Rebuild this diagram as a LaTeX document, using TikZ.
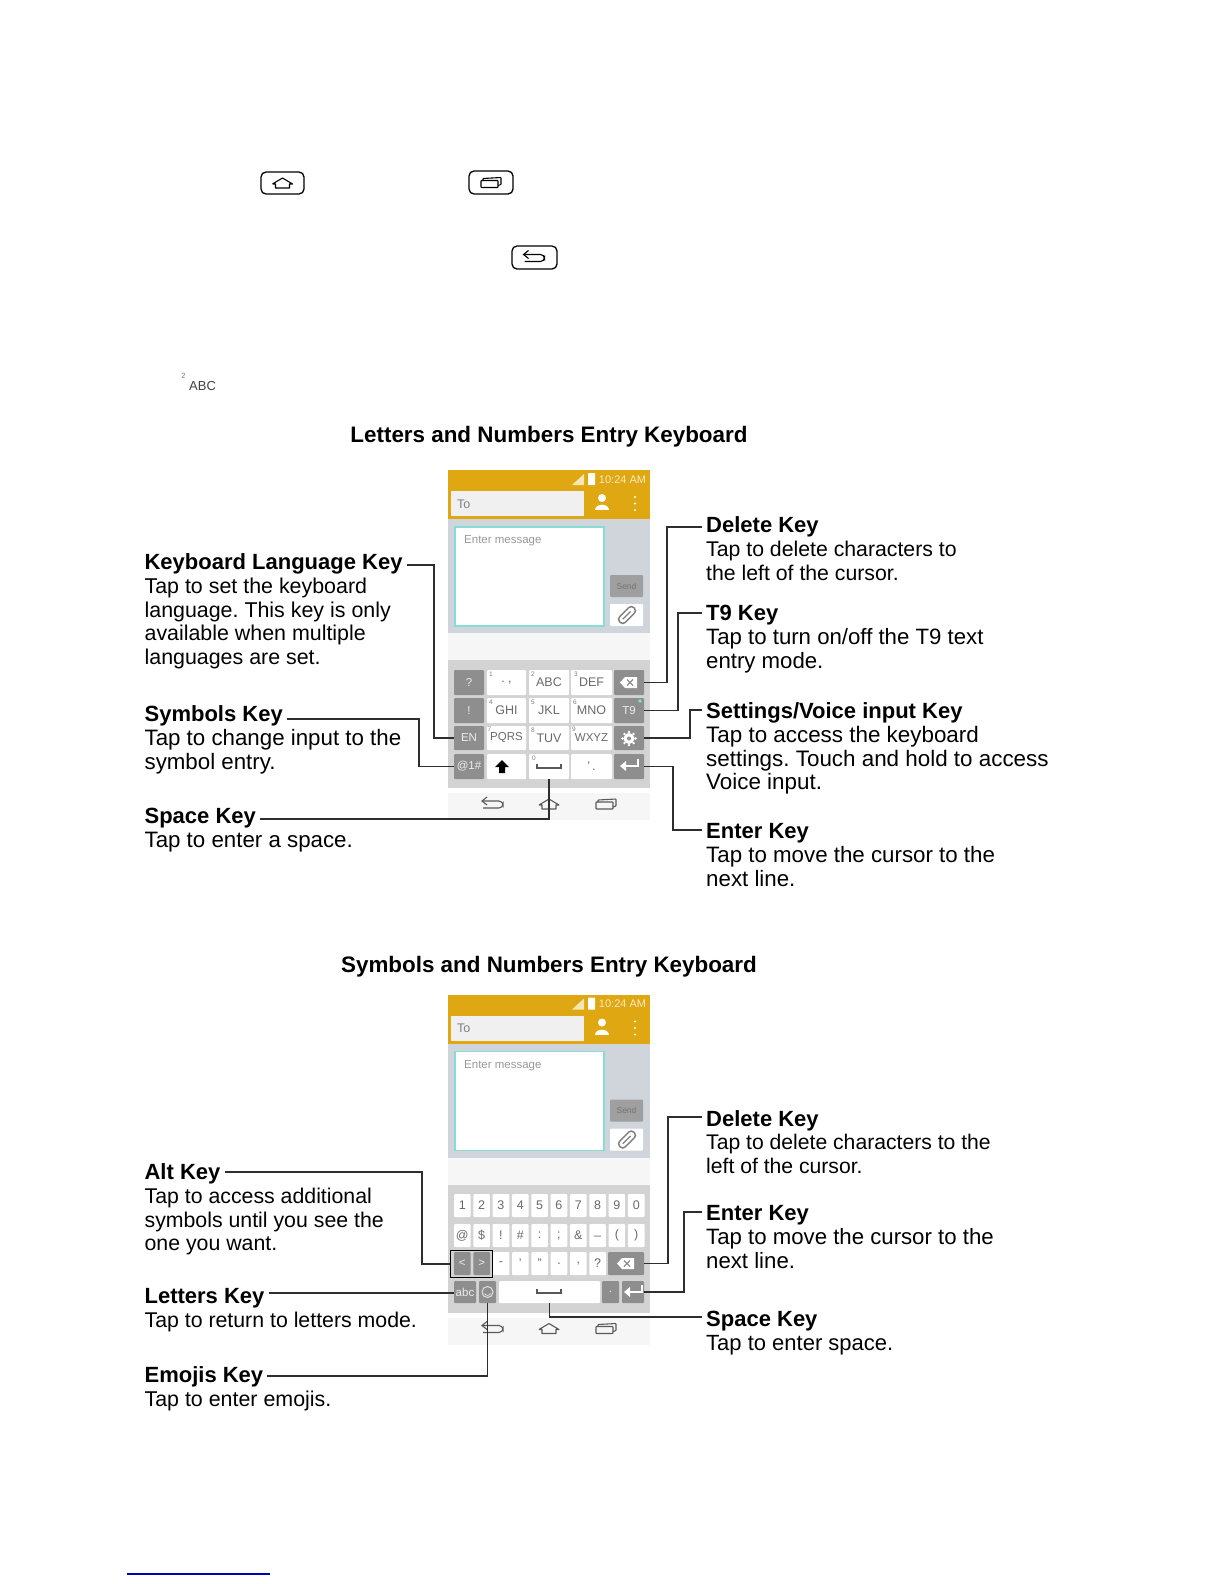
\documentclass[tikz,border=0pt]{standalone}
\usepackage{fontspec}
\setmainfont{Liberation Sans}
\frenchspacing
\usetikzlibrary{calc}
\definecolor{barO}{HTML}{DFA812}
\definecolor{msgG}{HTML}{CFD5DA}
\definecolor{kbG}{HTML}{D3D3D3}
\definecolor{keyD}{HTML}{8E8E8E}
\definecolor{bandL}{HTML}{F6F6F6}
\definecolor{tealB}{HTML}{86DDD6}
\definecolor{txtG}{HTML}{6A6A6A}
\definecolor{lineK}{HTML}{2E2E2E}
\tikzset{
 x=1pt,y=-1pt,
 conn/.style={draw=lineK,line width=1.6pt,shorten <=4pt},
 keyw/.style={fill=white,rounded corners=1pt,inner sep=0,text=txtG,font=\fontsize{12.5}{13}\selectfont},
 keyd/.style={fill=keyD,rounded corners=1pt,inner sep=0,text=white!85!gray,font=\fontsize{11.5}{13}\selectfont},
 sm/.style={inner sep=0,text=gray,font=\fontsize{6.5}{7}\selectfont},
 heading/.style={anchor=base west,inner sep=0,text height=16pt,text depth=5pt,font=\bfseries\fontsize{22}{24}\selectfont},
 bodytxt/.style={anchor=north west,inner sep=0,align=left},
 titletxt/.style={inner sep=0,font=\bfseries\fontsize{22.4}{25}\selectfont},
 ic/.style={draw=#1,line width=1.1pt,fill=none},
 ic/.default=black,
 homeic/.pic={\draw[ic=#1,line join=round] (-10,1)--(0,-5)--(10,1)--(7,1)--(7,5)--(-7,5)--(-7,1)--(-10,1);},
 homeic/.default=black,
 recic/.pic={\draw[ic=#1,rounded corners=.6pt] (-10,-2) rectangle (7,5);\draw[ic=#1,rounded corners=.6pt] (-8,-2)--(-8,-4)--(10,-5)--(10,2)--(7,3);},
 recic/.default=black,
 backic/.pic={\draw[ic=#1,rounded corners=4pt] (-10,-3)--(10,-3)--(10,4)--(-10,4);\draw[ic=#1] (-6,-7)--(-11,-3)--(-6,1);},
 backic/.default=black,
 btnbox/.style={draw=black,line width=1.3pt,rounded corners=5pt,fill=white,inner sep=0},
}
\newcommand\kk[7]{\node[#1,minimum width={((#5)-(#3))*1pt},minimum height={((#6)-(#4))*1pt}] (#2) at ({((#3)+(#5))/2},{((#4)+(#6))/2}) {\raisebox{-1pt}{#7}};}
\newcommand\sn[3]{\node[sm] (s#1#2) at (#1,#2) {#3};}
% label block: [body size]{x}{baseline y}{name}{connector y}{heading}{body}
\newcommand\blk[7][21.6]{\node[heading] (#4) at (#2,#3) {#6};
 \node[bodytxt,font=\fontsize{#1}{23.7}\selectfont] (#4b) at (#2,#3+7.1) {\strut #7};
 \coordinate (#4y) at (0,#5);}
\newcommand\phonetop{%
 \fill[barO] (448,470) rectangle (650,519);
 \fill[msgG] (448,519) rectangle (650,633);
 \fill[bandL] (448,633) rectangle (650,660);
 \fill[kbG] (448,660) rectangle (650,788);
 \fill[bandL] (448,793) rectangle (650,820);
 \fill[white!70!barO] (572,485)--(584,474)--(584,485)--cycle;
 \fill[white,rounded corners=.5pt] (588,473) rectangle (595,485);
 \node[inner sep=0,text=white!75!barO,font=\fontsize{11}{13}\selectfont] (clock) at (622.5,479.5) {10:24 AM};
 \kk{fill=white!88!gray,inner sep=0}{tobox}{451}{491}{584}{516}{}
 \node[anchor=west,inner sep=0,text=gray,font=\fontsize{12.5}{13}\selectfont] (totxt) at (457,504) {To};
 \fill[white] (602,498) circle (4);
 \fill[white] (595,510) .. controls (595,503) and (609,503) .. (609,510) -- cycle;
 \fill[white] (635,497) circle (1.2) (635,503.5) circle (1.2) (635,510) circle (1.2);
 \kk{fill=white,draw=tealB,line width=1.5pt,inner sep=0}{msgbox}{455}{527}{604}{626}{}
 \node[anchor=west,inner sep=0,text=gray!80,font=\fontsize{11.5}{13}\selectfont] (msgtxt) at (464,541) {Enter message};
 \kk{fill=keyD!85!white,rounded corners=1pt,inner sep=0,text=gray!90!black,font=\fontsize{8.5}{10}\selectfont}{sendk}{610}{575}{643}{597}{Send}
 \kk{fill=white,rounded corners=1pt,inner sep=0}{clipk}{610}{604}{643}{626}{}
 \begin{scope}[rotate around={45:(627,615)}]
 \draw[draw=gray,line width=1.5pt,rounded corners=3.5pt] (617,611) rectangle (637,619);
 \draw[draw=gray,line width=1.2pt] (621,615) -- (632,615);
 \end{scope}
 \pic at (493,804) {backic=gray!70!black};
 \pic at (549,804) {homeic=gray!70!black};
 \pic at (606,804) {recic=gray!70!black};
}
\newcommand\delicon[2]{\fill[white] (#1-9,#2)--(#1-4,#2-5.5)--(#1+8,#2-5.5)--(#1+8,#2+5.5)--(#1-4,#2+5.5)--cycle;
 \draw[keyD,line width=1.2pt] (#1-2,#2-3)--(#1+4,#2+3) (#1-2,#2+3)--(#1+4,#2-3);}
\newcommand\enticon[2]{\draw[white,line width=1.8pt] (#1+9,#2-7)--(#1+9,#2)--(#1-5,#2);\fill[white] (#1-9,#2)--(#1-3,#2-5)--(#1-3,#2+5)--cycle;}
\newcommand\spcicon[2]{\draw[lineK!80,line width=1.4pt] (#1-12,#2-3)--(#1-12,#2+1)--(#1+12,#2+1)--(#1+12,#2-3);}
\begin{document}
\begin{tikzpicture}
\useasboundingbox (0,0) rectangle (1224,1584);
\fill[white] (0,0) rectangle (1224,1584);
% top icons
\kk{btnbox}{bhome}{261}{172}{304}{194}{}
\pic at (bhome.center) {homeic};
\kk{btnbox}{brec}{469}{171}{513}{194}{}
\pic at (brec.center) {recic};
\kk{btnbox}{bback}{512}{246}{557}{269}{}
\pic at (bback.center) {backic};
\node[sm,font=\fontsize{7.5}{8}\selectfont] (sup2) at (183.5,375.5) {2};
\node[anchor=base west,inner sep=0,text=black!75,font=\fontsize{13}{14}\selectfont] (abc) at (189,390) {ABC};
% titles
\node[titletxt] (t1) at (549,437) {Letters and Numbers Entry Keyboard};
\node[titletxt] (t2) at (549,966.5) {Symbols and Numbers Entry Keyboard};
% first phone
\phonetop
\kk{keyd}{kQ}{454}{670}{484}{695}{?}
\kk{keyd}{kE}{454}{698}{484}{723}{!}
\kk{keyd}{kEN}{454}{726}{484}{750}{EN}
\kk{keyd}{kSym}{454}{754}{484}{779}{@1\#}
\kk{keyw}{k1}{487}{670}{526}{695}{. ,}
\kk{keyw}{k2}{529}{670}{569}{695}{ABC}
\kk{keyw}{k3}{571}{670}{612}{695}{DEF}
\kk{keyd}{kDel}{614}{670}{644}{695}{}
\kk{keyw}{k4}{487}{698}{526}{723}{GHI}
\kk{keyw}{k5}{529}{698}{569}{723}{JKL}
\kk{keyw}{k6}{571}{698}{612}{723}{MNO}
\kk{keyd}{kT}{614}{698}{644}{723}{T9}
\kk{keyw}{k7}{487}{726}{526}{750}{\fontsize{11.5}{12}\selectfont PQRS}
\kk{keyw}{k8}{529}{726}{569}{750}{TUV}
\kk{keyw}{k9}{571}{726}{612}{750}{\fontsize{11.5}{12}\selectfont WXYZ}
\kk{keyd}{kSet}{614}{726}{644}{750}{}
\kk{keyw}{kShift}{487}{754}{526}{779}{}
\kk{keyw}{kSpace}{529}{754}{569}{779}{}
\kk{keyw}{kDot}{571}{754}{612}{779}{'\,.}
\kk{keyd}{kEnt}{614}{754}{644}{779}{}
\sn{491}{674.5}{1}\sn{533}{674.5}{2}\sn{576}{674.5}{3}
\sn{491}{702.5}{4}\sn{533}{702.5}{5}\sn{575}{702.5}{6}
\sn{489.5}{729}{7}\sn{533}{730}{8}\sn{574}{729}{9}
\sn{534}{758.5}{0}
\delicon{629}{682.5}
\enticon{629}{766}
\spcicon{549}{767}
\fill[tealB] (640,701) circle (1.8);
\fill[white] (629,738.5) circle (5.5);\fill[keyD] (629,738.5) circle (2);
\foreach \a in {0,45,...,315}{\fill[white] ($(629,738.5)+(\a:6.5)$) circle (1.3);}
\fill[black] (502,760)--(509,767)--(505,767)--(505,773)--(499,773)--(499,767)--(495,767)--cycle;
% first labels
\blk[21.4]{144.4}{569.5}{hKL}{565}{Keyboard Language Key}{Tap to set the keyboard\\language. This key is only\\available when multiple\\languages are set.}
\blk[22.3]{144.4}{721.5}{hSym}{719}{Symbols Key}{Tap to change input to the\\symbol entry.}
\blk[22.3]{144.4}{823.5}{hSp}{819}{Space Key}{Tap to enter a space.}
\blk[21.25]{706}{532.5}{hDel}{527}{Delete Key}{Tap to delete characters to\\the left of the cursor.}
\blk[22.2]{706}{620.5}{hT}{613}{T9 Key}{Tap to turn on/off the T9 text\\entry mode.}
\blk[22.4]{706}{718.5}{hSet}{710}{Settings/Voice input Key}{Tap to access the keyboard\\settings. Touch and hold to access\\Voice input.}
\blk[22.3]{706}{838.5}{hEnt}{830}{Enter Key}{Tap to move the cursor to the\\next line.}
\coordinate (v1) at (434,0);\coordinate (v2) at (419,0);
\coordinate (v3) at (667,0);\coordinate (v4) at (678,0);
\coordinate (v5) at (690,0);\coordinate (v6) at (673,0);
\draw[conn] (hKL.east |- hKLy) -- (hKLy -| v1) |- (kEN.west);
\draw[conn] (hSym.east |- hSymy) -- (hSymy -| v2) |- (kSym.west);
\draw[conn] (hSp.east |- hSpy) -| (kSpace.south);
\draw[conn] (hDel.west |- hDely) -- (hDely -| v3) |- (kDel.east);
\draw[conn] (hT.west |- hTy) -- (hTy -| v4) |- (kT.east);
\draw[conn] (hSet.west |- hSety) -- (hSety -| v5) |- (kSet.east);
\draw[conn] (hEnt.west |- hEnty) -- (hEnty -| v6) |- (kEnt.east);
% second phone
\begin{scope}[shift={(0,524.5)}]
\phonetop
\end{scope}
\foreach \c [count=\i from 0] in {1,2,3,4,5,6,7,8,9,0}{
 \kk{keyw}{n\i}{454+\i*19.33}{1194}{470.6+\i*19.33}{1217}{\c}
}
\foreach \c [count=\i from 0] in {@,\$,!,\#,:,;,\&,\_,{(},{)}}{
 \kk{keyw}{m\i}{454+\i*19.33}{1224}{470.6+\i*19.33}{1247}{\c}
}
\kk{keyd}{kL}{454}{1252}{470.6}{1275}{<}
\kk{keyd}{kR}{473.3}{1252}{490}{1275}{>}
\kk{keyw}{p2}{492.7}{1252}{509.3}{1275}{-}
\kk{keyw}{p3}{512}{1252}{528.6}{1275}{'}
\kk{keyw}{p4}{531.3}{1252}{548}{1275}{"}
\kk{keyw}{p5}{550.7}{1252}{567.3}{1275}{.}
\kk{keyw}{p6}{570}{1252}{586.6}{1275}{,}
\kk{keyw}{p7}{589.3}{1252}{606}{1275}{?}
\kk{keyd}{kDelb}{608}{1252}{644}{1275}{}
\delicon{626}{1263.5}
\node[draw=black,line width=1.3pt,inner sep=0,minimum width=41.5pt,minimum height=27.5pt] (altf) at (471.5,1264) {};
\kk{keyd}{kabc}{454}{1281}{476}{1303}{abc}
\kk{keyd}{kEmo}{479}{1281}{496}{1303}{}
\draw[white!75!gray,line width=1pt] (487.5,1292) circle (5.5);
\draw[white!75!gray,line width=.8pt] (484.5,1293.5) .. controls (486,1296) and (489,1296) .. (490.5,1293.5);
\kk{keyw}{kSpb}{499}{1281}{600}{1303}{}
\kk{keyd}{kPt}{602}{1281}{619}{1303}{.}
\kk{keyd}{kEntb}{622}{1281}{644}{1303}{}
\enticon{633}{1292}
\spcicon{549}{1292}
% second labels
\blk[21.3]{144.4}{1179.5}{hAlt}{1172}{Alt Key}{Tap to access additional\\symbols until you see the\\one you want.}
\blk[21.3]{144.4}{1303.5}{hLet}{1293}{Letters Key}{Tap to return to letters mode.}
\blk[21.4]{144.4}{1382.5}{hEmo}{1376}{Emojis Key}{Tap to enter emojis.}
\blk[21.15]{706}{1126}{hDelb}{1117}{Delete Key}{Tap to delete characters to the\\left of the cursor.}
\blk[22.2]{706}{1220.5}{hEntb}{1212}{Enter Key}{Tap to move the cursor to the\\next line.}
\blk[22]{706}{1326.5}{hSpb}{1317}{Space Key}{Tap to enter space.}
\coordinate (w1) at (422,0);\coordinate (w2) at (668,0);\coordinate (w3) at (684,0);
\draw[conn] (hAlt.east |- hAlty) -- (hAlty -| w1) |- (altf.west);
\draw[conn] (hLet.east |- hLety) -- (hLety -| kabc.west);
\draw[conn] (hEmo.east |- hEmoy) -| (kEmo.south);
\draw[conn] (hDelb.west |- hDelby) -- (hDelby -| w2) |- (kDelb.east);
\draw[conn] (hEntb.west |- hEntby) -- (hEntby -| w3) |- (kEntb.east);
\draw[conn] (hSpb.west |- hSpby) -| (kSpb.south);
% footer rule
\coordinate (fa) at (127,1574);\coordinate (fb) at (270,1574);
\draw[blue!70!black,line width=1.2pt] (fa) -- (fb);
\end{tikzpicture}
\end{document}
